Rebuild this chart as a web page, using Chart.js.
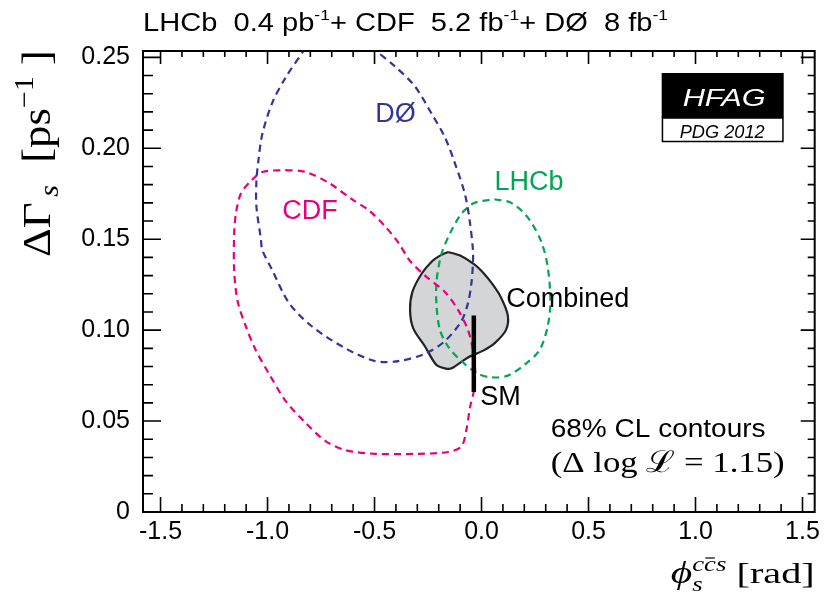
<!DOCTYPE html>
<html>
<head>
<meta charset="utf-8">
<script src="https://cdn.jsdelivr.net/npm/chart.js@4.4.1/dist/chart.umd.min.js"></script>
<style>
  html, body { margin: 0; padding: 0; background: #fff; }
  canvas { display: block; }
</style>
</head>
<body>
<canvas id="graphique" width="825" height="597" style="width:825px;height:597px"></canvas>
<script>
// axis ranges (phi_s in rad, DeltaGamma_s in ps^-1)
const X_MIN = -1.582, X_MAX = 1.557;
const Y_MIN = 0, Y_MAX = 0.2535;

const xTickValues = [-1.5, -1.0, -0.5, 0.0, 0.5, 1.0, 1.5];
const xTickLabels = ["-1.5", "-1.0", "-0.5", "0.0", "0.5", "1.0", "1.5"];
const yTickValues = [0, 0.05, 0.10, 0.15, 0.20, 0.25];
const yTickLabels = ["0", "0.05", "0.10", "0.15", "0.20", "0.25"];

// DØ 8 fb-1 contour (open above the frame)
const d0Phi = [-0.686, -0.598, -0.497, -0.404, -0.311, -0.233, -0.171, -0.125, -0.078, -0.055,
    -0.040, -0.040, -0.047, -0.063, -0.094, -0.171, -0.264, -0.388, -0.497, -0.636,
    -0.792, -0.900, -0.978, -1.024, -1.032, -1.052, -1.052, -1.043, -1.024, -0.978,
    -0.915, -0.830, -0.774, -0.686];
const d0DGamma = [0.273, 0.265, 0.254, 0.245, 0.234, 0.219, 0.206, 0.192, 0.175, 0.160,
    0.144, 0.137, 0.126, 0.115, 0.105, 0.094, 0.087, 0.083, 0.083, 0.090,
    0.102, 0.115, 0.133, 0.144, 0.151, 0.168, 0.182, 0.193, 0.208, 0.225,
    0.239, 0.254, 0.265, 0.273];

// CDF 5.2 fb-1 contour
const cdfPhi = [-0.915, -0.822, -0.714, -0.606, -0.528, -0.450, -0.388, -0.334, -0.264, -0.171,
    -0.109, -0.063, -0.040, -0.030, -0.035, -0.053, -0.071, -0.094, -0.156, -0.295,
    -0.497, -0.636, -0.729, -0.822, -0.915, -0.993, -1.055, -1.101, -1.140, -1.156,
    -1.156, -1.148, -1.125, -1.078, -1.024, -0.915];
const cdfDGamma = [0.188, 0.187, 0.181, 0.172, 0.166, 0.157, 0.148, 0.138, 0.130, 0.121,
    0.111, 0.100, 0.089, 0.078, 0.067, 0.058, 0.045, 0.036, 0.033, 0.032,
    0.032, 0.034, 0.039, 0.049, 0.061, 0.076, 0.089, 0.102, 0.116, 0.133,
    0.153, 0.164, 0.175, 0.182, 0.187, 0.188];

// LHCb 0.4 pb-1 contour
const lhcbPhi = [0.061, 0.139, 0.216, 0.278, 0.309, 0.322, 0.309, 0.271, 0.201, 0.123,
    0.046, -0.016, -0.094, -0.156, -0.194, -0.210, -0.210, -0.187, -0.148, -0.094,
    -0.032, 0.061];
const lhcbDGamma = [0.172, 0.170, 0.162, 0.149, 0.135, 0.116, 0.102, 0.089, 0.081, 0.075,
    0.074, 0.076, 0.083, 0.091, 0.100, 0.113, 0.127, 0.142, 0.153, 0.164,
    0.170, 0.172];

// combined contour
const combPhi = [-0.156, -0.100, -0.032, 0.012, 0.053, 0.091, 0.123, 0.114, 0.063, 0.012,
    -0.063, -0.140, -0.171, -0.212, -0.264, -0.319, -0.334, -0.323, -0.280, -0.230,
    -0.194, -0.156];
const combDGamma = [0.143, 0.141, 0.136, 0.131, 0.125, 0.118, 0.108, 0.100, 0.093, 0.089,
    0.085, 0.079, 0.079, 0.081, 0.091, 0.101, 0.111, 0.121, 0.131, 0.138,
    0.141, 0.143];

// Standard Model prediction
const smPhi = [-0.036, -0.036];
const smDGamma = [0.066, 0.108];

const canvas = document.getElementById("graphique");
const SANS = "'Liberation Sans', Arial, Helvetica, sans-serif";
const NARROW = "'Liberation Sans Narrow', 'Liberation Sans', sans-serif";
const SERIF = "'Liberation Serif', 'DejaVu Serif', serif";

function points(xs, ys) {
    return xs.map((x, i) => ({ x: x, y: ys[i] }));
}

function contour(label, xs, ys, color, order) {
    return {
        label: label,
        data: points(xs, ys),
        showLine: true,
        borderColor: color,
        borderWidth: 2.2,
        borderDash: [7, 5],
        pointRadius: 0,
        tension: 0.3,
        fill: false,
        order: order,
    };
}

// draws runs of text one after another, stretched to a target width
function drawRuns(ctx, runs, x, y, targetW) {
    let total = 0;
    runs.forEach(r => {
        ctx.font = r.f;
        r.w = ctx.measureText(r.t).width;
        total += r.adv === 0 ? 0 : r.w;
    });
    const s = targetW ? targetW / total : 1;
    ctx.save();
    ctx.translate(x, y);
    ctx.scale(s, 1);
    let cx = 0;
    runs.forEach(r => {
        ctx.font = r.f;
        ctx.fillText(r.t, cx, r.dy || 0);
        if (r.bar) {
            ctx.save();
            ctx.lineWidth = 1.2;
            ctx.beginPath();
            ctx.moveTo(cx + r.w * 0.1, (r.dy || 0) - r.bar);
            ctx.lineTo(cx + r.w * 0.9, (r.dy || 0) - r.bar);
            ctx.stroke();
            ctx.restore();
        }
        if (r.adv !== 0) cx += r.w;
    });
    ctx.restore();
}

const decorations = {
    id: "decorations",
    afterDraw(chart) {
        const ctx = chart.ctx;
        const a = chart.chartArea;
        const xs = chart.scales.x, ys = chart.scales.y;
        ctx.save();
        ctx.fillStyle = "#000";
        ctx.strokeStyle = "#000";
        ctx.textBaseline = "alphabetic";
        ctx.textAlign = "left";

        // frame
        ctx.lineWidth = 2;
        ctx.strokeRect(a.left, a.top, a.right - a.left, a.bottom - a.top);

        // inward ticks on all four sides
        ctx.lineWidth = 1.6;
        ctx.beginPath();
        for (let k = -15; k <= 15; k++) {
            const px = xs.getPixelForValue(k / 10);
            const major = k % 5 === 0;
            ctx.moveTo(px, a.bottom);
            ctx.lineTo(px, a.bottom - (major ? 15 : 8));
            ctx.moveTo(px, a.top);
            ctx.lineTo(px, a.top + (major ? 13 : 6));
        }
        for (let k = 0; k <= 25; k++) {
            const py = ys.getPixelForValue(k / 100);
            const major = k % 5 === 0;
            ctx.moveTo(a.left, py);
            ctx.lineTo(a.left + (major ? 18 : 10), py);
            ctx.moveTo(a.right, py);
            ctx.lineTo(a.right - (major ? 14 : 7), py);
        }
        ctx.stroke();

        // contour labels
        const lab = (txt, x, y, color) => {
            ctx.fillStyle = color;
            ctx.font = "27px " + SANS;
            ctx.fillText(txt, xs.getPixelForValue(x), ys.getPixelForValue(y));
        };
        lab("DØ", -0.497, 0.2144, "#333399");
        lab("CDF", -0.931, 0.1613, "#e6007e");
        lab("LHCb", 0.061, 0.1769, "#00a651");
        lab("Combined", 0.115, 0.1127, "#000");
        lab("SM", -0.006, 0.0587, "#000");

        ctx.fillStyle = "#000";
        ctx.font = "26px " + SANS;
        drawRuns(ctx, [{ t: "68% CL contours", f: "26px " + SANS }],
            xs.getPixelForValue(0.323), ys.getPixelForValue(0.0412), 215);
        drawRuns(ctx, [
            { t: "(", f: "30px " + SERIF },
            { t: "Δ", f: "30px " + SERIF },
            { t: " log ", f: "30px " + SERIF },
            { t: "ℒ", f: "30px " + SERIF },
            { t: " = 1.15)", f: "30px " + SERIF },
        ], xs.getPixelForValue(0.323), ys.getPixelForValue(0.022), 234);

        // HFAG logo
        const lx = a.right - 153, ly = a.top + 22, lw = 122;
        ctx.fillStyle = "#000";
        ctx.fillRect(lx, ly, lw, 45);
        ctx.fillStyle = "#fff";
        ctx.fillRect(lx, ly + 45, lw, 24);
        ctx.lineWidth = 1.5;
        ctx.strokeRect(lx + 0.75, ly + 45, lw - 1.5, 23.5);
        ctx.fillStyle = "#fff";
        drawRuns(ctx, [{ t: "HFAG", f: "italic 24px " + SANS }], lx + 21, ly + 33, 83);
        ctx.fillStyle = "#000";
        drawRuns(ctx, [{ t: "PDG 2012", f: "italic 19px " + SANS }], lx + 18, ly + 65, 85);

        // title
        const sup = "15px " + NARROW, big = "25px " + NARROW;
        drawRuns(ctx, [
            { t: "LHCb  0.4 pb", f: big },
            { t: "-1", f: sup, dy: -11 },
            { t: "+ CDF  5.2 fb", f: big },
            { t: "-1", f: sup, dy: -11 },
            { t: "+ DØ  8 fb", f: big },
            { t: "-1", f: sup, dy: -11 },
        ], a.left, 31, 525);

        // x axis title
        drawRuns(ctx, [
            { t: "ϕ", f: "italic 31px " + SERIF },
            { t: "s", f: "italic 20px " + SERIF, dy: 8, adv: 0 },
            { t: "c", f: "italic 20px " + SERIF, dy: -12 },
            { t: "c", f: "italic 20px " + SERIF, dy: -12, bar: 13 },
            { t: "s", f: "italic 20px " + SERIF, dy: -12 },
            { t: " [rad]", f: "30px " + SERIF },
        ], a.right - 144, 583, 144);

        // y axis title (rotated)
        ctx.save();
        ctx.translate(50, 257);
        ctx.rotate(-Math.PI / 2);
        drawRuns(ctx, [
            { t: "ΔΓ", f: "40px " + SERIF },
            { t: " ", f: "20px " + SERIF },
            { t: "s", f: "italic 27px " + SERIF, dy: 8 },
            { t: "  [ps", f: "40px " + SERIF },
            { t: "−1", f: "27px " + SERIF, dy: -17 },
            { t: " ]", f: "40px " + SERIF },
        ], 0, 0, 207);
        ctx.restore();

        ctx.restore();
    },
};

new Chart(canvas, {
    type: "scatter",
    data: {
        datasets: [
            {
                label: "SM",
                data: points(smPhi, smDGamma),
                showLine: true,
                borderColor: "#000",
                borderWidth: 4.5,
                pointRadius: 0,
                order: 0,
            },
            contour("DØ", d0Phi, d0DGamma, "#333399", 1),
            contour("CDF", cdfPhi, cdfDGamma, "#e6007e", 1),
            contour("LHCb", lhcbPhi, lhcbDGamma, "#00a651", 1),
            {
                label: "Combined",
                data: points(combPhi, combDGamma),
                showLine: true,
                borderColor: "#222",
                borderWidth: 2.2,
                backgroundColor: "#d4d5d7",
                fill: "shape",
                pointRadius: 0,
                tension: 0.3,
                order: 5,
            },
        ],
    },
    options: {
        responsive: false,
        animation: false,
        layout: { padding: { top: 51, right: 7, left: 0, bottom: 0 } },
        plugins: {
            legend: { display: false },
            tooltip: { enabled: false },
            title: { display: false },
        },
        scales: {
            x: {
                type: "linear",
                min: X_MIN,
                max: X_MAX,
                grid: { display: false, drawTicks: false },
                border: { display: false },
                ticks: {
                    color: "#000",
                    font: { family: SANS, size: 25 },
                    padding: 5,
                    maxRotation: 0,
                    autoSkip: false,
                    callback: (v) => xTickLabels[xTickValues.indexOf(v)],
                },
                afterBuildTicks: (s) => { s.ticks = xTickValues.map(v => ({ value: v })); },
                afterFit: (s) => { s.height = 85; },
            },
            y: {
                type: "linear",
                min: Y_MIN,
                max: Y_MAX,
                grid: { display: false, drawTicks: false },
                border: { display: false },
                ticks: {
                    color: "#000",
                    font: { family: SANS, size: 25 },
                    padding: 13,
                    autoSkip: false,
                    callback: (v) => yTickLabels[yTickValues.indexOf(v)],
                },
                afterBuildTicks: (s) => { s.ticks = yTickValues.map(v => ({ value: v })); },
                afterFit: (s) => { s.width = 143; },
            },
        },
    },
    plugins: [decorations],
});
</script>
</body>
</html>
